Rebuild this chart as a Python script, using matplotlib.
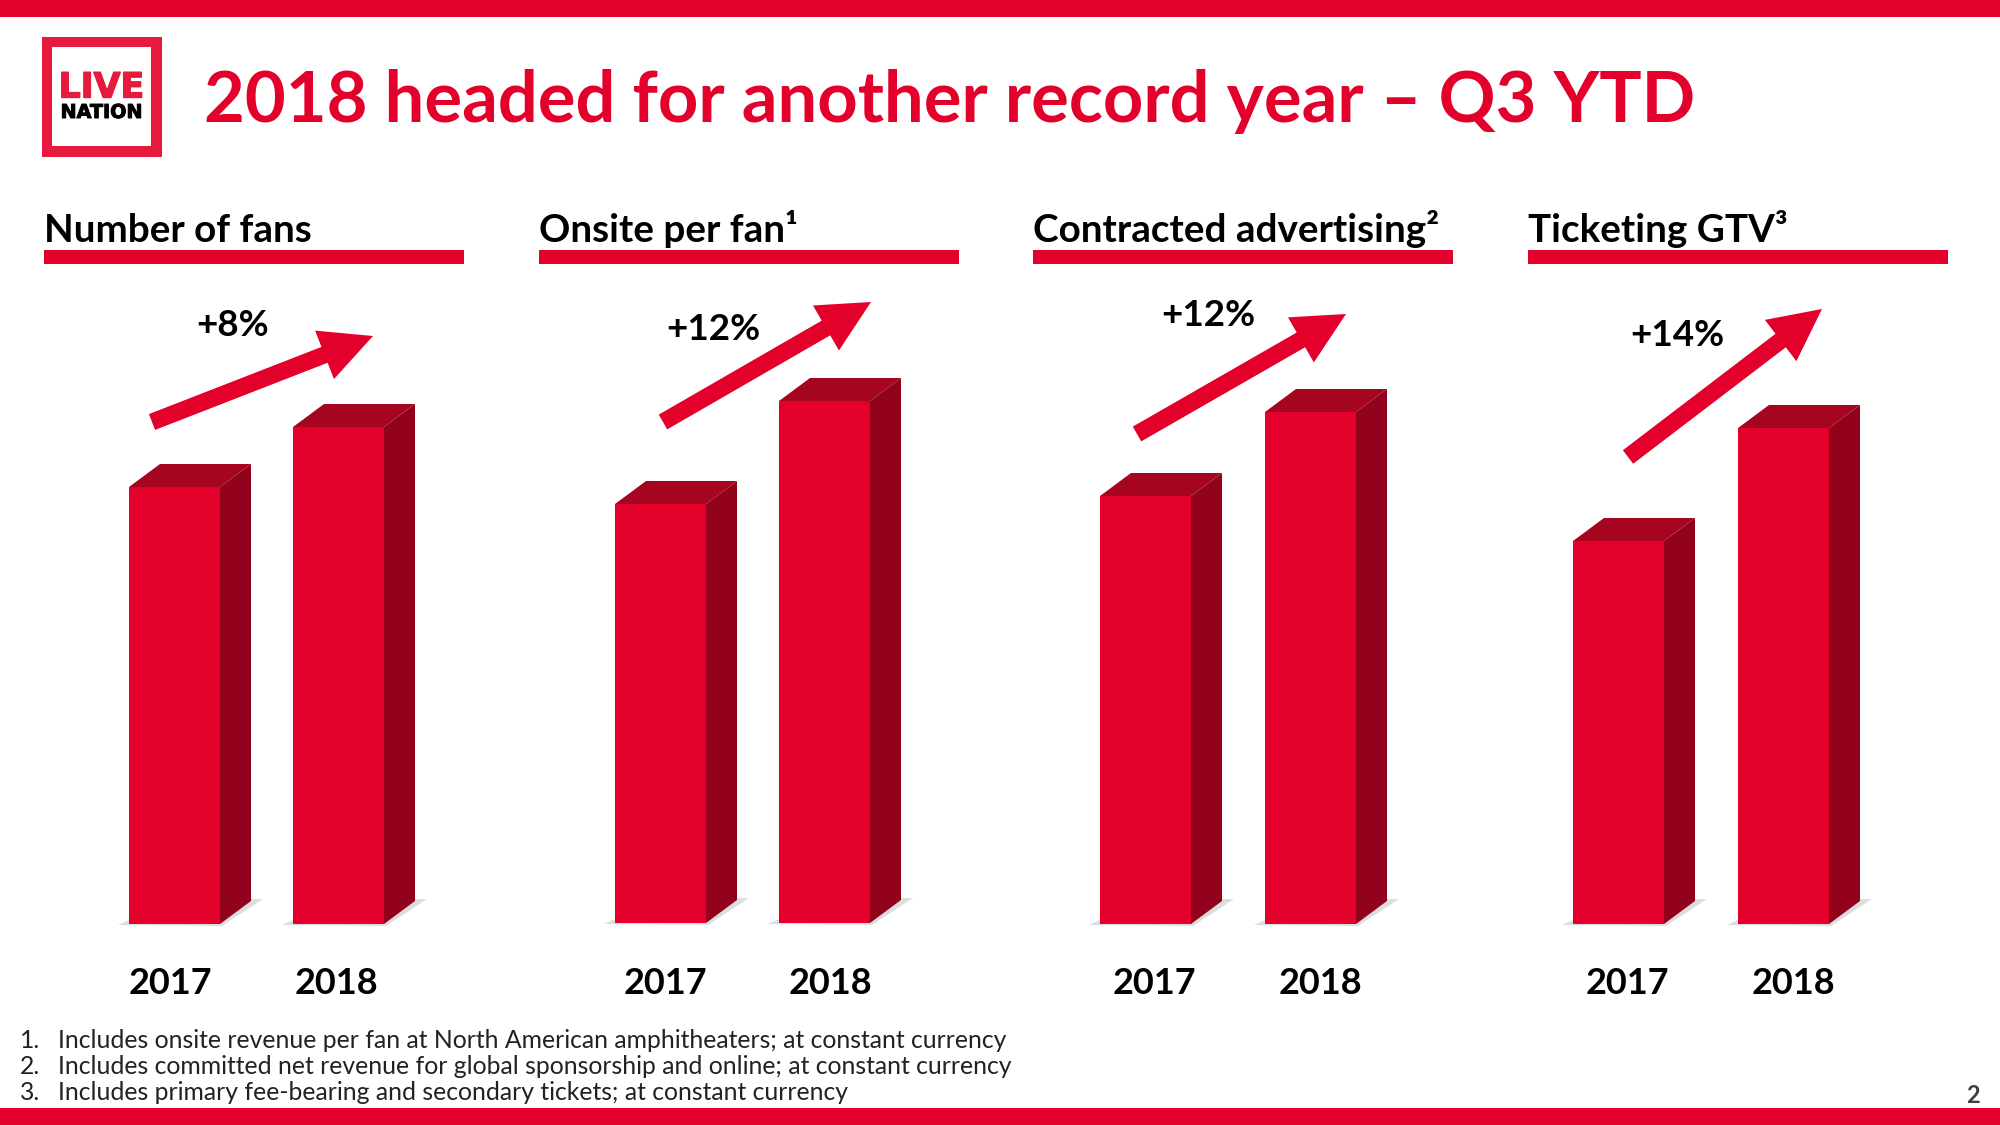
import matplotlib
matplotlib.use('Agg')
import matplotlib.pyplot as plt
import matplotlib.patheffects as pe
from matplotlib.patches import Polygon, Rectangle, FancyArrow

# bar heights (no axis given, so in image units)
panel_titles = ['Number of fans', 'Onsite per fan¹', 'Contracted advertising²', 'Ticketing GTV³']
years = ['2017', '2018']
fans = [437, 497]
onsite = [419, 522]
advertising = [428, 512]
ticketing = [383, 496]
changes = ['+8%', '+12%', '+12%', '+14%']
footnotes = [
    'Includes onsite revenue per fan at North American amphitheaters; at constant currency',
    'Includes committed net revenue for global sponsorship and online; at constant currency',
    'Includes primary fee-bearing and secondary tickets; at constant currency',
]
title = '2018 headed for another record year – Q3 YTD'

RED = '#e3002b'
LOGO_RED = '#e61a3c'
TOP = '#a6051f'
SIDE = '#92021c'
FONT = ['Lato', 'DejaVu Sans']
plt.rcParams['font.family'] = FONT

series = [fans, onsite, advertising, ticketing]
header_x = [44, 539, 1033, 1528]
bar_x = [(129, 293), (615, 779), (1100, 1265), (1573, 1738)]
year_x = [(170, 336), (665, 830), (1154, 1320), (1627, 1793)]
baseline = [924, 923, 924, 924]
change_pos = [(233, 326), (713, 330), (1208, 315), (1677, 336)]
# tail centre and tip of each trend arrow
arrows = [((152, 422), (373, 336)), ((663, 422), (871, 302)),
          ((1137, 434), (1346, 314)), ((1628, 457), (1822, 309))]
BAR_W = 91
DX, DY = 31, 23

fig = plt.figure(figsize=(20, 11.25), dpi=100, facecolor='white')
ax = fig.add_axes([0, 0, 1, 1])
ax.set_xlim(0, 2000)
ax.set_ylim(1125, 0)
ax.axis('off')

# page bands
ax.add_patch(Rectangle((0, 0), 2000, 17, color=RED, lw=0))
ax.add_patch(Rectangle((0, 1108), 2000, 17, color=RED, lw=0))

# logo
ax.add_patch(Rectangle((42, 37), 120, 120, color=LOGO_RED, lw=0))
ax.add_patch(Rectangle((52, 47), 99, 99, color='white', lw=0))
ax.text(101.5, 97.5, 'LIVE', color=LOGO_RED, fontsize=25, fontweight='bold', family='DejaVu Sans',
        ha='center', va='baseline', path_effects=[pe.withStroke(linewidth=1, foreground=LOGO_RED)])
ax.text(101.5, 118, 'NATION', color='black', fontsize=13.8, fontweight='bold', family='DejaVu Sans',
        ha='center', va='baseline', path_effects=[pe.withStroke(linewidth=0.7, foreground='black')])

ax.text(204, 122, title, color=RED, fontsize=50.8, fontweight='bold', ha='left', va='baseline')

for i, vals in enumerate(series):
    hx = header_x[i]
    ax.text(hx, 242, panel_titles[i], color='black', fontsize=27.8, fontweight='bold', ha='left', va='baseline')
    ax.add_patch(Rectangle((hx, 250), 420, 14, color=RED, lw=0))

    base = baseline[i]
    bars = ax.bar(bar_x[i], [-v for v in vals], width=BAR_W, bottom=base, align='edge', color=RED, lw=0, zorder=3)
    for b, yr, yx in zip(bars, years, year_x[i]):
        x0 = b.get_x()
        x1 = x0 + b.get_width()
        y0 = b.get_y()
        y1 = y0 + b.get_height()
        # soft shadow on the floor
        ax.add_patch(Polygon([(x0 - 11, y0 + 1), (x0, y0 - 4), (x1 + DX, y0 - DY - 2), (x1 + DX + 12, y0 - DY - 2), (x1 + 2, y0 + 2)],
                             closed=True, color='#5a6a66', alpha=0.22, lw=0, zorder=1))
        # side and top faces of the block
        ax.add_patch(Polygon([(x1, y0), (x1 + DX, y0 - DY), (x1 + DX, y1 - DY), (x1, y1)],
                             closed=True, color=SIDE, lw=0, zorder=2))
        ax.add_patch(Polygon([(x0, y1), (x1, y1), (x1 + DX, y1 - DY), (x0 + DX, y1 - DY)],
                             closed=True, color=TOP, lw=0, zorder=2))
        ax.text(yx, 994, yr, color='black', fontsize=26, fontweight='bold', ha='center', va='baseline')

    (tx, ty), (hx2, hy2) = arrows[i]
    ax.add_patch(FancyArrow(tx, ty, hx2 - tx, hy2 - ty, width=17, head_width=52, head_length=52,
                            length_includes_head=True, color=RED, lw=0, zorder=4))
    ax.text(change_pos[i][0], change_pos[i][1], changes[i], color='black', fontsize=26.5, fontweight='bold',
            ha='center', va='center')

for n, (note, y) in enumerate(zip(footnotes, [1048, 1074, 1100])):
    ax.text(20, y, f'{n + 1}.', color='#222222', fontsize=17.8, ha='left', va='baseline')
    ax.text(58, y, note, color='#222222', fontsize=17.8, ha='left', va='baseline')

ax.text(1973, 1103, '2', color='#404040', fontsize=17, fontweight='bold', ha='center', va='baseline')

fig.savefig('out.png', dpi=100)
plt.close(fig)
